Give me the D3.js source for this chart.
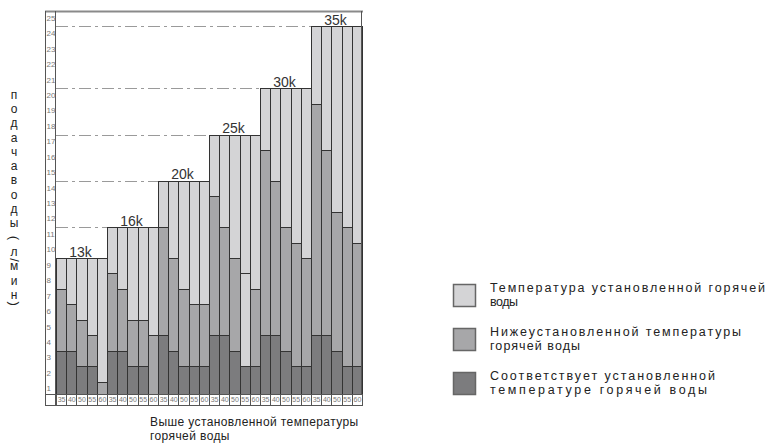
<!DOCTYPE html>
<html><head><meta charset="utf-8">
<script src="https://cdn.jsdelivr.net/npm/d3@7"></script>
<style>body{margin:0;background:#fff} svg{display:block;font-family:"Liberation Sans",Arial,sans-serif}</style>
</head><body><svg id="c" width="770" height="443"></svg>
<script>
// ---- data ----
const groups = ["13k","16k","20k","25k","30k","35k"];
const temps = ["35","40","50","55","60"];
const totals = [9,11,14,17,20,24];
const darkTop = [[3,3,2,2,0],[3,3,2,2,0],[4,3,2,2,2],[4,4,3,2,2],[4,4,3,2,2],[4,4,3,2,2]];
const midTop  = [[7,6,5,4,1],[8,7,5,5,4],[11,9,7,6,6],[13,11,9,8,7],[16,14,11,10,9],[19,16,12,11,10]];
const lightMiddle = ["25k|55"];
const yTicks = d3.range(1,26);
const legendLabels = [["Температура установленной горячей","воды"],["Нижеустановленной температуры","горячей воды"],["Соответствует установленной","температуре горячей воды"]];
const xTitle = ["Выше установленной температуры","горячей воды"];
const yTitle = "подача воды (л/мин)";

// ---- styles ----
const colors = ["#7c7c7e","#a7a7a9","#d4d4d6"]; // dark, medium, light
const svg = d3.select("#c");
const xg = d3.scaleBand().domain(groups).range([56,362]).padding(0);
const xb = d3.scaleBand().domain(temps).range([0,xg.bandwidth()]).padding(0);
const y = d3.scaleLinear().domain([0,25]).range([397,11]);
const rowTop = Math.round(y(0.2)), rowH = 11;

// bars
const segs = [];
groups.forEach((g,gi)=>temps.forEach((t,ti)=>{
  const b=[0,darkTop[gi][ti],midTop[gi][ti],totals[gi]];
  for(let s=0;s<3;s++){ if(b[s+1]>b[s]) segs.push({g,t,s,y0:b[s],y1:b[s+1]}); }
}));
const bx = d=>Math.round(xg(d.g)+xb(d.t))+0.5;
const bw = d=>Math.round(xg(d.g)+xb(d.t)+xb.bandwidth())-Math.round(xg(d.g)+xb(d.t));
svg.append("g").selectAll("rect").data(segs).join("rect")
  .attr("x",bx).attr("width",bw)
  .attr("y",d=>Math.round(y(d.y1))+0.5)
  .attr("height",d=>Math.round(y(d.y0))-Math.round(y(d.y1)))
  .attr("fill",d=>(d.s===1&&lightMiddle.includes(d.g+"|"+d.t))?colors[2]:colors[d.s])
  .attr("stroke","#333").attr("stroke-width",1);

// dash-dot guides
svg.append("g").selectAll("line").data(groups.slice(1)).join("line")
  .attr("x1",56).attr("x2",d=>Math.round(xg(d)))
  .attr("y1",d=>Math.round(y(totals[groups.indexOf(d)]))+0.5)
  .attr("y2",d=>Math.round(y(totals[groups.indexOf(d)]))+0.5)
  .attr("stroke","#9a9a9a").attr("stroke-dasharray","12,4,3,4");

// group labels
svg.append("g").selectAll("text").data(groups).join("text")
  .attr("x",d=>xg(d)+xg.bandwidth()/2-1).attr("y",(d,i)=>y(totals[i])-1.5)
  .attr("text-anchor","middle").attr("font-size",14).attr("fill","#333").text(d=>d);

// frame
svg.append("line").attr("x1",45).attr("x2",363).attr("y1",y(25)+0.5).attr("y2",y(25)+0.5).attr("stroke","#8a8a8a").attr("stroke-width",2);
[45.5,55.5].forEach(x=>svg.append("line").attr("x1",x).attr("x2",x).attr("y1",y(25)).attr("y2",rowTop+rowH).attr("stroke","#555"));
svg.append("line").attr("x1",361.5).attr("x2",361.5).attr("y1",y(25)).attr("y2",rowTop).attr("stroke","#555");

// y ticks
svg.append("g").selectAll("text").data(yTicks).join("text")
  .attr("x",46.5).attr("y",d=>y(d-0.45)).attr("dy","0.35em")
  .attr("font-size",8).attr("fill","#777").text(d=>d);

// x tick row
const cells = [];
groups.forEach(g=>temps.forEach(t=>cells.push({g,t})));
const row = svg.append("g");
row.append("rect").attr("x",45.5).attr("y",rowTop+0.5).attr("width",10).attr("height",rowH).attr("fill","#fff").attr("stroke","#555");
row.selectAll("rect.c").data(cells).join("rect").attr("class","c")
  .attr("x",bx).attr("y",rowTop+0.5).attr("width",bw)
  .attr("height",rowH).attr("fill","#fff").attr("stroke","#555");
row.selectAll("text").data(cells).join("text")
  .attr("x",d=>xg(d.g)+xb(d.t)+xb.bandwidth()/2+0.5).attr("y",rowTop+rowH/2+0.5).attr("dy","0.35em")
  .attr("text-anchor","middle").attr("font-size",7).attr("fill","#777").text(d=>d.t);

// x title
svg.append("g").selectAll("text").data(xTitle).join("text")
  .attr("x",150).attr("y",(d,i)=>426+i*14).attr("font-size",12).attr("letter-spacing",0.4)
  .attr("fill","#222").text(d=>d);

// y title: stacked glyphs, brackets turned
const fs = 12, cx = 14, step = 14.3;
const chars = Array.from(yTitle).filter(c=>c!==" ");
let slot=0; const yc=[];
chars.forEach(c=>{
  if(c==="/"){ yc.push({c,pos:slot-0.45}); }
  else if(c===")"){ yc.push({c,pos:slot-0.4}); }
  else { yc.push({c,pos:slot}); slot++; }
});
svg.append("g").selectAll("text").data(yc).join("text")
  .attr("transform",d=>`translate(${cx},${95+d.pos*step})`+(/[()\/]/.test(d.c)?" rotate(90)":""))
  .attr("text-anchor","middle").attr("dy","0.3em").attr("font-size",d=>/[()\/]/.test(d.c)?13:fs)
  .attr("fill","#222").text(d=>d.c);

// legend
const legW = [[275,28],[251,90],[225,217]];
const lg = svg.append("g").selectAll("g").data(legendLabels).join("g")
  .attr("transform",(d,i)=>`translate(453,${284+i*44})`);
lg.append("rect").attr("x",0.5).attr("y",0.5).attr("width",22).attr("height",22)
  .attr("fill",(d,i)=>colors[2-i]).attr("stroke","#666").attr("stroke-width",1.5);
lg.each(function(d,i){
  d3.select(this).selectAll("text").data(d).join("text")
    .attr("x",37).attr("y",(t,j)=>8+j*14).attr("font-size",12.5).attr("fill","#222")
    .attr("textLength",(t,j)=>legW[i][j]).attr("lengthAdjust","spacing").text(t=>t);
});
</script></body></html>
